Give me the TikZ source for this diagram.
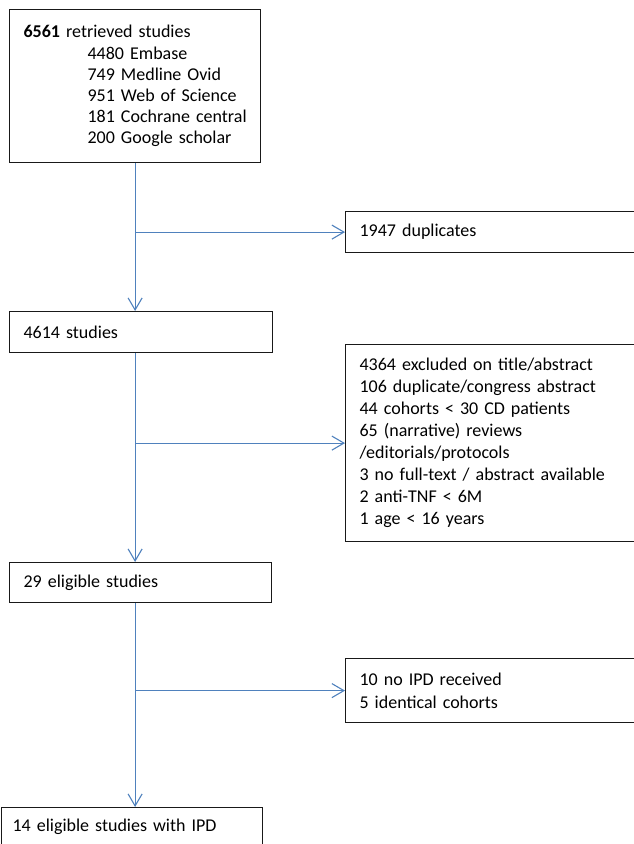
\documentclass[tikz,border=0pt]{standalone}
\usepackage{fontspec}
\setmainfont{Carlito}
\usetikzlibrary{arrows.meta}
\definecolor{flowblue}{RGB}{79,129,189}
\begin{document}
\begin{tikzpicture}[x=1pt,y=-1pt,
  box/.style={draw=black!90, line width=1.2pt, anchor=north west, align=left,
    inner xsep=14pt, inner ysep=0pt, font=\fontsize{18}{22}\selectfont},
  flow/.style={draw=flowblue, line width=1.1pt, -{Straight Barb[length=12pt,width=14pt]}}]
\useasboundingbox (0,0) rectangle (634,844);
\clip (0,0) rectangle (634,844);
\node[box, text width=223pt, minimum height=153pt, font=\fontsize{18}{21.2}\selectfont] (retrieved) at (9,9)
  {\mbox{\textbf{6561} retrieved studies}\\
   \mbox{\hspace*{64pt}4480 Embase}\\
   \mbox{\hspace*{64pt}749 Medline Ovid}\\
   \mbox{\hspace*{64pt}951 Web of Science}\\
   \mbox{\hspace*{64pt}181 Cochrane central}\\
   \mbox{\hspace*{64pt}200 Google scholar}};
\node[box, text width=272pt, minimum height=41pt] (duplicates) at (345,211) {1947 duplicates};
\node[box, text width=235pt, minimum height=41pt] (screened) at (9,311) {4614 studies};
\node[box, text width=272pt, minimum height=197pt] (excluded) at (345,344)
  {4364 excluded on title/abstract\\
   106 duplicate/congress abstract\\
   44 cohorts < 30 CD patients\\
   65 (narrative) reviews\\
   /editorials/protocols\\
   3 no full-text / abstract available\\
   2 anti-TNF < 6M\\
   1 age < 16 years};
\node[box, text width=234pt, minimum height=40pt] (eligible) at (9,562) {29 eligible studies};
\node[box, text width=272pt, minimum height=64pt, font=\fontsize{18}{22.7}\selectfont] (noipd) at (345,658)
  {10 no IPD received\\
   5 identical cohorts};
\node[box, inner xsep=11pt, text width=239pt, minimum height=39pt] (included) at (1,807) {14 eligible studies with IPD};
\draw[flow] (retrieved.south) -- (retrieved.south |- screened.north);
\draw[flow] (retrieved.south |- duplicates.west) -- (duplicates.west);
\draw[flow] (retrieved.south |- screened.south) -- (retrieved.south |- eligible.north);
\draw[flow] (retrieved.south |- excluded.west) -- (excluded.west);
\draw[flow] (retrieved.south |- eligible.south) -- (retrieved.south |- included.north);
\draw[flow] (retrieved.south |- noipd.west) -- (noipd.west);
\end{tikzpicture}
\end{document}
